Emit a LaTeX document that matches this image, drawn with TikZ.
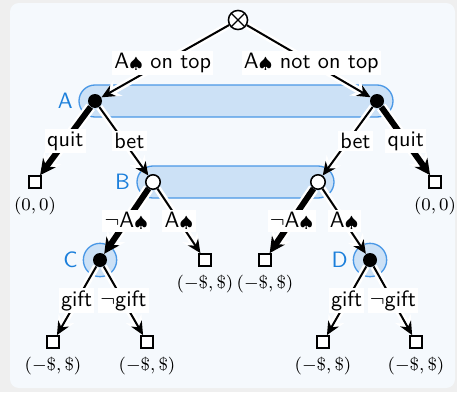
\documentclass[tikz,border=0pt]{standalone}
\usepackage{amssymb}
\usetikzlibrary{arrows.meta}
\pgfdeclarelayer{bg}
\pgfsetlayers{bg,main}
\definecolor{outergray}{HTML}{EFEFEF}
\definecolor{panelfill}{HTML}{F5F9FD}
\definecolor{setfill}{HTML}{CCE1F6}
\definecolor{setline}{HTML}{4A98E6}
\definecolor{setblue}{HTML}{1B7FDB}
\newcommand{\spd}{{\scriptsize$\spadesuit$}}
\tikzset{
  chance/.style={circle,draw,fill=white,line width=0.7pt,minimum size=8.6pt,inner sep=0pt,
    path picture={\draw[line width=0.6pt] (path picture bounding box.north west)--(path picture bounding box.south east)
      (path picture bounding box.north east)--(path picture bounding box.south west);}},
  pone/.style={circle,fill=black,minimum size=6.3pt,inner sep=0pt},
  ptwo/.style={circle,draw,fill=white,line width=0.7pt,minimum size=6.5pt,inner sep=0pt},
  leaf/.style={rectangle,draw,fill=white,line width=0.8pt,minimum size=5.4pt,inner sep=0pt,label distance=1pt},
  setlabel/.style={text=setblue,xshift=-3.2pt},
  pay/.style={font=\footnotesize},
  elabel/.style={fill=white,inner sep=1pt},
  infoset/.style={draw=setline,fill=setfill,line width=0.6pt,rounded corners=7.2pt},
  move/.style={line width=0.9pt,-{Stealth[length=6pt,width=5.5pt]},
    preaction={draw=white,line width=3.2pt,-{Stealth[length=8.5pt,width=8pt]}}},
  strat/.style={line width=2.7pt,-{Stealth[length=7pt,width=7pt]},
    preaction={draw=white,line width=4.8pt,-{Stealth[length=9.5pt,width=9.5pt]}}}
}
\begin{document}
\begin{tikzpicture}[x=0.45pt,y=-0.45pt,font=\sffamily]
  \useasboundingbox (0,0) rectangle (457,392);
  % nodes of the tree
  \node[chance] (root) at (238,20) {};
  \node[pone,label={[setlabel]left:A}] (a1) at (95,101) {};
  \node[pone] (a2) at (377,101) {};
  \node[leaf,label={[pay]below:$(0,0)$}] (q1) at (35,182) {};
  \node[ptwo,label={[setlabel]left:B}] (b1) at (153,182) {};
  \node[ptwo] (b2) at (318,182) {};
  \node[leaf,label={[pay]below:$(0,0)$}] (q2) at (435,182) {};
  \node[pone,label={[setlabel]left:C}] (c) at (100,260) {};
  \node[leaf,label={[pay]below:$(-\$,\$)$}] (s1) at (205,260) {};
  \node[leaf,label={[pay]below:$(-\$,\$)$}] (s2) at (265,260) {};
  \node[pone,label={[setlabel]left:D}] (d) at (370,260) {};
  \node[leaf,label={[pay]below:$(-\$,\$)$}] (c1) at (53,342) {};
  \node[leaf,label={[pay]below:$(-\$,\$)$}] (c2) at (147,342) {};
  \node[leaf,label={[pay]below:$(-\$,\$)$}] (d1) at (323,342) {};
  \node[leaf,label={[pay]below:$(-\$,\$)$}] (d2) at (416,342) {};
  \begin{pgfonlayer}{bg}
    \fill[outergray] (0,0) rectangle (457,392);
    \fill[panelfill,rounded corners=4pt] (10,3) rectangle (455,388);
    % information sets
    \draw[infoset] ([xshift=-7.2pt,yshift=-7.2pt]a1.center) rectangle ([xshift=7.2pt,yshift=7.2pt]a2.center);
    \draw[infoset] ([xshift=-7.2pt,yshift=-7.2pt]b1.center) rectangle ([xshift=7.2pt,yshift=7.2pt]b2.center);
    \draw[infoset] (c) circle[radius=7.5pt];
    \draw[infoset] (d) circle[radius=7.5pt];
    % moves
    \draw[move] (root) -- node[elabel,pos=0.52]{A\spd{} on top} (a1);
    \draw[move] (root) -- node[elabel,pos=0.52]{A\spd{} not on top} (a2);
    \draw[strat] (a1) -- node[elabel]{quit} (q1);
    \draw[move] (a1) -- node[elabel,xshift=2.5pt]{bet} (b1);
    \draw[move] (a2) -- node[elabel,xshift=3.5pt]{bet} (b2);
    \draw[strat] (a2) -- node[elabel]{quit} (q2);
    \draw[strat] (b1) -- node[elabel]{$\neg$A\spd} (c);
    \draw[move] (b1) -- node[elabel]{A\spd} (s1);
    \draw[strat] (b2) -- node[elabel]{$\neg$A\spd} (s2);
    \draw[move] (b2) -- node[elabel]{A\spd} (d);
    \draw[move] (c) -- node[elabel]{gift} (c1);
    \draw[move] (c) -- node[elabel]{$\neg$gift} (c2);
    \draw[move] (d) -- node[elabel]{gift} (d1);
    \draw[move] (d) -- node[elabel]{$\neg$gift} (d2);
  \end{pgfonlayer}
\end{tikzpicture}
\end{document}
